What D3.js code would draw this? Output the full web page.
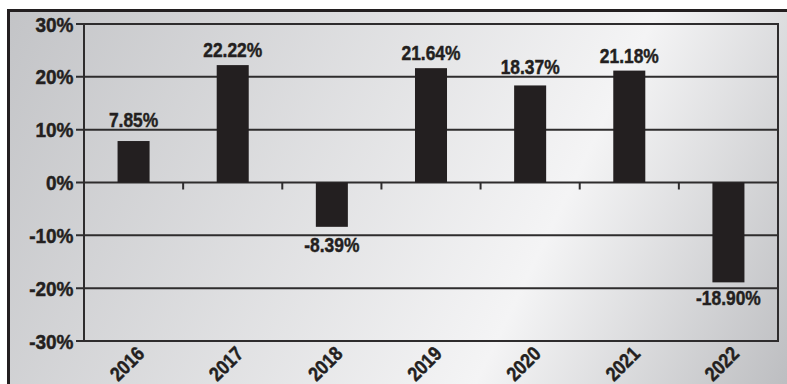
<!DOCTYPE html>
<html><head><meta charset="utf-8">
<script src="https://cdn.jsdelivr.net/npm/d3@7"></script>
<style>html,body{margin:0;padding:0;background:#fff;}svg{display:block;}</style>
</head><body>
<svg id="chart" width="787" height="384"></svg>
<script>
const years = ["2016","2017","2018","2019","2020","2021","2022"];
const returns = [7.85, 22.22, -8.39, 21.64, 18.37, 21.18, -18.90];
const yTicks = [-30,-20,-10,0,10,20,30];

(function(){
const W = 787, H = 384;
const mLeft = 84, mRight = 778, mTop = 24, mBottom = 341;
const svg = d3.select("#chart");
const font = "'Liberation Sans', Arial, Helvetica, sans-serif";
const ink = "#231f20";
const FS = 20, SX = 0.87, CAP = 14.3;

const defs = svg.append("defs");
const grad = defs.append("linearGradient").attr("id","bg")
  .attr("gradientUnits","userSpaceOnUse").attr("x1",0).attr("y1",0).attr("x2",W).attr("y2",H);
grad.append("stop").attr("offset","0").attr("stop-color","#c2c3c6");
grad.append("stop").attr("offset","0.68").attr("stop-color","#f4f4f5");
grad.append("stop").attr("offset","1").attr("stop-color","#bdbec1");

svg.append("rect").attr("x",7).attr("y",9).attr("width",W-7).attr("height",H-9).attr("fill","url(#bg)");
svg.append("rect").attr("x",7).attr("y",9).attr("width",W-7).attr("height",3).attr("fill",ink);
svg.append("rect").attr("x",7).attr("y",9).attr("width",3).attr("height",H-9).attr("fill",ink);

const x = d3.scaleBand().domain(years).range([mLeft,mRight]).paddingInner(0.677).paddingOuter(0.3385);
const y = d3.scaleLinear().domain([-30,30]).range([mBottom,mTop]);

const lineColor = "#2e2c2d";
svg.append("g").selectAll("line").data(yTicks).join("line")
  .attr("x1",mLeft-8).attr("x2",mRight).attr("y1",d=>y(d)).attr("y2",d=>y(d))
  .attr("stroke",lineColor).attr("stroke-width",2);
svg.append("line").attr("x1",mLeft).attr("x2",mLeft).attr("y1",y(30)-1).attr("y2",y(-30)+1)
  .attr("stroke",lineColor).attr("stroke-width",2);
svg.append("line").attr("x1",mRight).attr("x2",mRight).attr("y1",y(30)-1).attr("y2",y(-30)+1)
  .attr("stroke",lineColor).attr("stroke-width",2);
const step = x.step();
const bounds = d3.range(1, years.length).map(i => mLeft + step*i);
svg.append("g").selectAll("line").data(bounds).join("line")
  .attr("x1",d=>d).attr("x2",d=>d).attr("y1",y(0)).attr("y2",y(0)+7)
  .attr("stroke",lineColor).attr("stroke-width",2);

function styleText(sel, anchor){
  return sel.attr("text-anchor",anchor).attr("font-family",font).attr("font-weight","bold")
    .attr("font-size",FS+"px").attr("fill",ink).attr("stroke",ink).attr("stroke-width",0.45);
}

// y tick labels
styleText(svg.append("g").selectAll("text").data(yTicks).join("text")
  .attr("transform",d=>`translate(${mLeft-10.5},${y(d)+7.5}) scale(0.95,1)`), "end")
  .text(d=>d+"%");

// bars
svg.append("g").selectAll("rect").data(years).join("rect")
  .attr("x",d=>x(d)).attr("width",x.bandwidth())
  .attr("y",(d,i)=>y(Math.max(0,returns[i])))
  .attr("height",(d,i)=>Math.abs(y(returns[i])-y(0)))
  .attr("fill",ink);

// value label baseline: keep clear of gridlines
const gridYs = yTicks.map(t=>y(t));
function labelBaseline(v){
  if (v >= 0) {
    let base = y(v) - 8;
    const hit = gridYs.find(g => g > base - CAP - 1 && g < base + 1.5);
    if (hit !== undefined) base = hit - 2.5;
    return base;
  } else {
    let capTop = y(v) + 8;
    const hit = gridYs.find(g => g > capTop - 1.5 && g < capTop + CAP + 1);
    if (hit !== undefined) capTop = hit + 2.5;
    return capTop + CAP;
  }
}
styleText(svg.append("g").selectAll("text").data(years).join("text")
  .attr("transform",(d,i)=>`translate(${x(d)+x.bandwidth()/2},${labelBaseline(returns[i])}) scale(${SX},1)`), "middle")
  .text((d,i)=>returns[i].toFixed(2)+"%");

// x labels rotated
styleText(svg.append("g").selectAll("text").data(years).join("text")
  .attr("transform",d=>`translate(${x(d)+x.bandwidth()/2+12},${355}) rotate(-45) scale(${SX},1)`), "end")
  .text(d=>d);
})();
</script>
</body></html>
